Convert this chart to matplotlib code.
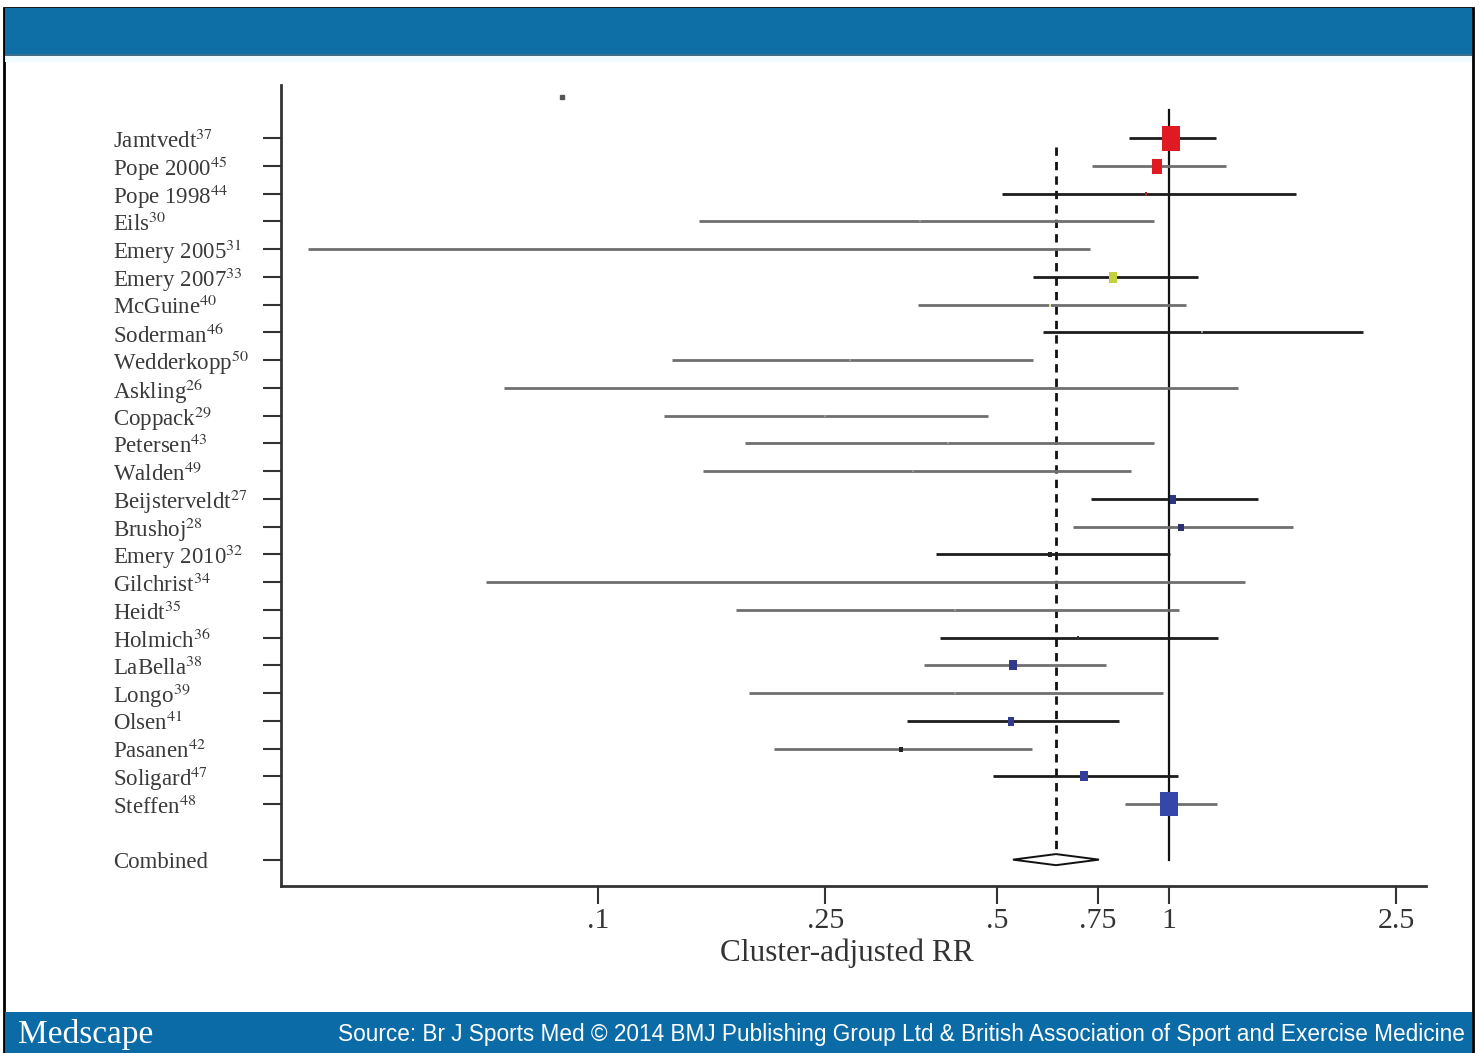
import numpy as np
import matplotlib
matplotlib.use("Agg")
import matplotlib.pyplot as plt
import matplotlib.transforms as mtransforms
from matplotlib.patches import Rectangle, Polygon

plt.rcParams['mathtext.fontset'] = 'stix'

# study data (cluster-adjusted RR with 95% CI)
studies = ["Jamtvedt", "Pope 2000", "Pope 1998", "Eils", "Emery 2005", "Emery 2007",
           "McGuine", "Soderman", "Wedderkopp", "Askling", "Coppack", "Petersen",
           "Walden", "Beijsterveldt", "Brushoj", "Emery 2010", "Gilchrist", "Heidt",
           "Holmich", "LaBella", "Longo", "Olsen", "Pasanen", "Soligard", "Steffen"]
refs = [37, 45, 44, 30, 31, 33, 40, 46, 50, 26, 29, 43, 49, 27, 28, 32, 34, 35,
        36, 38, 39, 41, 42, 47, 48]
rr = [1.008, 0.951, 0.911, 0.366, np.nan, 0.798, 0.619, 1.142, 0.276, np.nan,
      0.250, 0.410, 0.356, 1.016, 1.050, 0.619, np.nan, 0.422, 0.693, 0.533,
      0.422, 0.529, 0.339, 0.710, 1.000]
ci_low = [0.851, 0.733, 0.510, 0.150, 0.0311, 0.578, 0.363, 0.602, 0.135, 0.0684,
          0.1305, 0.181, 0.1527, 0.730, 0.679, 0.391, 0.0637, 0.1745, 0.397, 0.372,
          0.184, 0.348, 0.203, 0.492, 0.837]
ci_high = [1.209, 1.259, 1.669, 0.941, 0.727, 1.124, 1.071, 2.187, 0.578, 1.321,
           0.482, 0.941, 0.858, 1.432, 1.649, 1.004, 1.359, 1.041, 1.218, 0.776,
           0.976, 0.818, 0.576, 1.037, 1.214]
combined_rr = 0.634
combined_low = 0.533
combined_high = 0.754
stray_x = [0.0865]
stray_y = [-1.48]

xticks = [0.1, 0.25, 0.5, 0.75, 1, 2.5]
xticklabels = [".1", ".25", ".5", ".75", "1", "2.5"]

# styles per row: box height (px), box colour, CI line colour
box_px = [25, 15, 4, 2, 0, 11, 3, 2, 2, 0, 2, 2, 2, 9, 7, 5, 0, 2, 4, 10, 2, 9, 5, 10, 24]
box_col = ["#e01a22", "#e01a22", "#a82828", "#999999", "#999999", "#c4d23a",
           "#e6e69a", "#999999", "#999999", "#999999", "#999999", "#999999",
           "#999999", "#2b3580", "#2b3070", "#222222", "#999999", "#999999",
           "#333333", "#33398a", "#999999", "#33398a", "#222222", "#333d99", "#3547a8"]
dark = {0, 2, 5, 7, 13, 15, 18, 21, 23}

W, H = 1479, 1053
fig = plt.figure(figsize=(W / 100, H / 100), dpi=100)

# page decoration
fig.patches.append(Rectangle((4 / W, 0), 1469 / W, (H - 8) / H, transform=fig.transFigure,
                             fill=False, edgecolor="black", linewidth=2, zorder=0))
fig.patches.append(Rectangle((5 / W, (H - 54) / H), 1467 / W, 46 / H, transform=fig.transFigure,
                             facecolor="#0e6ea6", edgecolor="none", zorder=1))
fig.patches.append(Rectangle((5 / W, (H - 56) / H), 1467 / W, 2 / H, transform=fig.transFigure,
                             facecolor="#3d6f8c", edgecolor="none", zorder=1))
fig.patches.append(Rectangle((5 / W, (H - 62) / H), 1467 / W, 6 / H, transform=fig.transFigure,
                             facecolor="#eefcff", edgecolor="none", zorder=1))
fig.patches.append(Rectangle((5 / W, 0), 1467 / W, 41 / H, transform=fig.transFigure,
                             facecolor="#0b6ba7", edgecolor="none", zorder=1))
fig.text(18 / W, 19 / H, "Medscape", color="white", fontsize=24, family="Liberation Serif",
         va="center", ha="left", zorder=3)
fig.text(1465 / W, 19 / H,
         "Source: Br J Sports Med \u00a9 2014 BMJ Publishing Group Ltd & British Association of Sport and Exercise Medicine",
         color="white", fontsize=16.3, family="Liberation Sans", va="center", ha="right", zorder=3)

# plot area
ax = fig.add_axes([281 / W, (H - 886) / H, (1426 - 281) / W, (886 - 85) / H])
ax.set_xscale("log")
ax.set_xlim(0.02785, 2.819)
ax.set_ylim(26.95, -1.91)

n = len(studies)
rows = np.arange(n)
comb_row = n + 1
px_per_pt = 100 / 72
box_marker = [(-0.72, -1), (0.72, -1), (0.72, 1), (-0.72, 1)]

for i in range(n):
    lc = "#1c1c1c" if i in dark else "#6f6f6f"
    ax.plot([ci_low[i], ci_high[i]], [rows[i], rows[i]], color=lc, linewidth=2, zorder=3,
            solid_capstyle="butt")
    if not np.isnan(rr[i]) and box_px[i] > 0:
        ax.plot(rr[i], rows[i], marker=box_marker, markersize=box_px[i] / px_per_pt,
                color=box_col[i], markeredgewidth=0, zorder=4)

ax.plot(stray_x, stray_y, marker="s", markersize=2.2, color="#555555", linestyle="none")

# reference lines
ax.plot([1, 1], [-1.0, comb_row], color="#111111", linewidth=1.6, zorder=2)
ax.plot([combined_rr, combined_rr], [0.32, comb_row - 0.2], color="#111111", linewidth=2,
        linestyle=(0, (3, 2.2)), zorder=2)

# pooled diamond
dh = 0.2
ax.add_patch(Polygon([(combined_low, comb_row), (combined_rr, comb_row - dh),
                      (combined_high, comb_row), (combined_rr, comb_row + dh)],
                     closed=True, facecolor="white", edgecolor="#111111", linewidth=1.4, zorder=5))

# axes styling
for s in ["top", "right"]:
    ax.spines[s].set_visible(False)
for s in ["left", "bottom"]:
    ax.spines[s].set_linewidth(2)
    ax.spines[s].set_color("#333333")

ax.set_xticks(xticks)
ax.set_xticklabels(xticklabels, family="Liberation Serif", fontsize=21.5, color="#333333")
ax.xaxis.set_minor_locator(matplotlib.ticker.NullLocator())
ax.tick_params(axis="x", direction="out", length=13, width=1.5, color="#333333", pad=3)

ax.set_yticks(list(rows) + [comb_row])
ax.set_yticklabels([])
ax.tick_params(axis="y", direction="out", length=13, width=1.5, color="#333333")

ax.set_xlabel("Cluster-adjusted RR", family="Liberation Serif", fontsize=22.5, color="#333333",
              labelpad=3)
ax.xaxis.label.set_x(0.494)

trans = mtransforms.blended_transform_factory(fig.transFigure, ax.transData)
shift = mtransforms.ScaledTranslation(0, -3 / 100, fig.dpi_scale_trans)
labels = [f"{s}$^{{{r}}}$" for s, r in zip(studies, refs)] + ["Combined"]
for y, lab in zip(list(rows) + [comb_row], labels):
    ax.text(113 / W, y, lab, transform=trans + shift, family="Liberation Serif", fontsize=16.5,
            color="#3a3a3a", ha="left", va="center", clip_on=False)

fig.savefig("out.png", dpi=100)
